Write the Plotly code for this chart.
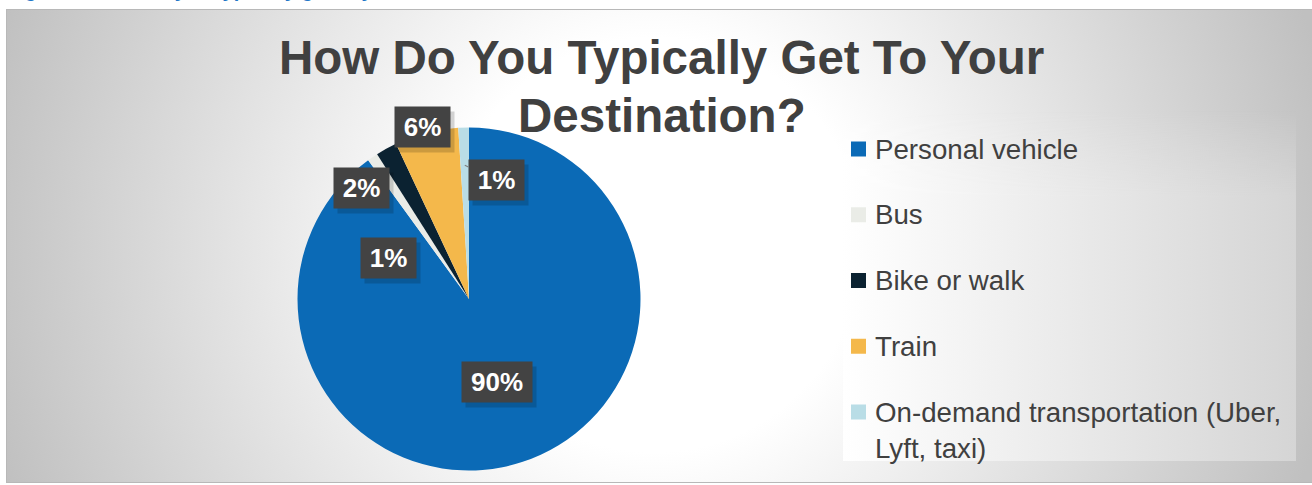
import base64
import math

import plotly.graph_objects as go

# ---- data -------------------------------------------------------------
modes = [
    "Personal vehicle",
    "Bus",
    "Bike or walk",
    "Train",
    "On-demand transportation (Uber, Lyft, taxi)",
]
legend_lines = [
    "Personal vehicle",
    "Bus",
    "Bike or walk",
    "Train",
    "On-demand transportation (Uber,<br>Lyft, taxi)",
]
shares = [90, 1, 2, 6, 1]
colors = ["#0b6ab6", "#eaece7", "#0b2231", "#f4b84b", "#b9dde6"]

title_lines = ["How Do You Typically Get To Your", "Destination?"]
caption = "Figure 6: How do you typically get to your destination?"

# ---- geometry / style ---------------------------------------------------
W, H = 1312, 485
CX, CY, R = 469, 299, 171.5          # pie centre and radius (px)
FONT = "Arial, Liberation Sans, sans-serif"
DARK = "#404040"

# data-label placement: angle clockwise from 12 o'clock, distance in radii
label_angle = [161, 297, 316, 345, 13]
label_dist = [0.51, 0.53, 0.90, 1.04, 0.71]


def px(x, y):
    """pixel position -> paper coordinates"""
    return x / W, 1 - y / H


def polar(angle_deg, dist):
    a = math.radians(angle_deg)
    return CX + dist * R * math.sin(a), CY - dist * R * math.cos(a)


# chart-area background: soft radial grey gradient plus a lighter legend panel
svg = f"""<svg xmlns="http://www.w3.org/2000/svg" width="{W}" height="{H}" viewBox="0 0 {W} {H}">
<defs>
<radialGradient id="bg" gradientUnits="userSpaceOnUse" cx="654" cy="245" r="690">
<stop offset="0.3" stop-color="#ffffff"/><stop offset="1" stop-color="#c0c0c0"/>
</radialGradient>
<linearGradient id="lg" x1="0" y1="0" x2="1" y2="0">
<stop offset="0" stop-color="#ffffff"/><stop offset="1" stop-color="#d5d5d5"/>
</linearGradient>
<linearGradient id="fade" x1="0" y1="0" x2="0" y2="1">
<stop offset="0" stop-color="#000"/><stop offset="0.25" stop-color="#fff"/>
<stop offset="1" stop-color="#fff"/>
</linearGradient>
<mask id="m" maskUnits="userSpaceOnUse" x="843" y="110" width="453" height="351">
<rect x="843" y="110" width="453" height="351" fill="url(#fade)"/>
</mask>
</defs>
<rect width="{W}" height="{H}" fill="#ffffff"/>
<rect x="6.5" y="9.5" width="1310" height="473" fill="url(#bg)" stroke="#b8b8b8" stroke-width="1"/>
<rect x="843" y="110" width="453" height="351" fill="url(#lg)" mask="url(#m)"/>
</svg>"""
bg_src = "data:image/svg+xml;base64," + base64.b64encode(svg.encode()).decode()

total = sum(shares)
x0, y1 = px(CX - R, CY - R)
x1, y0 = px(CX + R, CY + R)

fig = go.Figure(
    go.Pie(
        labels=modes,
        values=shares,
        sort=False,
        direction="clockwise",
        rotation=0,
        marker=dict(colors=colors, line=dict(width=0)),
        textinfo="none",
        hoverinfo="label+percent",
        showlegend=False,
        domain=dict(x=[x0, x1], y=[y0, y1]),
    )
)

annotations = []

# title
for text, yc in zip(title_lines, [57, 115]):
    xp, yp = px(662, yc)
    annotations.append(dict(
        x=xp, y=yp, xref="paper", yref="paper", xanchor="center", yanchor="middle",
        text=text, showarrow=False,
        font=dict(family=FONT, size=47.5, color=DARK, weight="bold"),
    ))

# caption above the chart area (mostly out of frame)
cx_, cy_ = px(5, 3)
annotations.append(dict(
    x=cx_, y=cy_, xref="paper", yref="paper", xanchor="left", yanchor="bottom",
    text=caption, showarrow=False,
    font=dict(family=FONT, size=20, color="#1f77c8", weight="bold"),
))

# data labels in dark boxes
cum = 0
for i, v in enumerate(shares):
    pct = f"{v / total * 100:.0f}%"
    lx, ly = polar(label_angle[i], label_dist[i])
    mid = (cum + v / 2) / total * 360
    cum += v
    box = dict(width=19 + 15 * len(pct), height=34, borderpad=3)
    lab_font = dict(family=FONT, size=26, color="white", weight="bold")
    # drop shadow
    sx, sy = px(lx + 4, ly + 5)
    annotations.append(dict(
        x=sx, y=sy, xref="paper", yref="paper", xanchor="center", yanchor="middle",
        text=pct, showarrow=False, bgcolor="rgba(0,0,0,0.16)",
        font=dict(lab_font, color="rgba(0,0,0,0)"), **box,
    ))
    if label_dist[i] > 0.6 and v / total < 0.02:
        # thin slice: leader line from the slice to its label
        tx, ty = polar(mid, 0.78)
        tpx, tpy = px(tx, ty)
        annotations.append(dict(
            x=tpx, y=tpy, xref="paper", yref="paper", ax=lx - tx, ay=ly - ty,
            text=pct, showarrow=True, arrowhead=0, arrowwidth=1.2,
            arrowcolor="#7f7f7f", bgcolor="#434343", font=lab_font, **box,
        ))
    else:
        xp, yp = px(lx, ly)
        annotations.append(dict(
            x=xp, y=yp, xref="paper", yref="paper", xanchor="center", yanchor="middle",
            text=pct, showarrow=False, bgcolor="#434343", font=lab_font, **box,
        ))

# legend drawn as swatches + text
shapes = []
LEG_Y0, LEG_STEP, LEG_FS = 149, 65.75, 27.7
for i, (name, col) in enumerate(zip(legend_lines, colors)):
    yc = LEG_Y0 + i * LEG_STEP
    sx0, sy0 = px(851, yc - 7.5)
    sx1, sy1 = px(866, yc + 7.5)
    shapes.append(dict(type="rect", xref="paper", yref="paper",
                       x0=sx0, x1=sx1, y0=sy1, y1=sy0,
                       fillcolor=col, line=dict(width=0)))
    n_lines = name.count("<br>") + 1
    ty = yc + (n_lines - 1) * LEG_FS * 1.3 / 2
    txp, typ = px(873, ty)
    annotations.append(dict(
        x=txp, y=typ, xref="paper", yref="paper", xanchor="left", yanchor="middle",
        text=name, align="left", showarrow=False,
        font=dict(family=FONT, size=LEG_FS, color=DARK),
    ))

fig.update_layout(
    width=W, height=H,
    margin=dict(l=0, r=0, t=0, b=0),
    paper_bgcolor="white",
    plot_bgcolor="rgba(0,0,0,0)",
    images=[dict(source=bg_src, xref="paper", yref="paper", x=0, y=1,
                 sizex=1, sizey=1, xanchor="left", yanchor="top",
                 sizing="stretch", layer="below")],
    annotations=annotations,
    shapes=shapes,
    showlegend=False,
)

fig.write_html("out.html")
